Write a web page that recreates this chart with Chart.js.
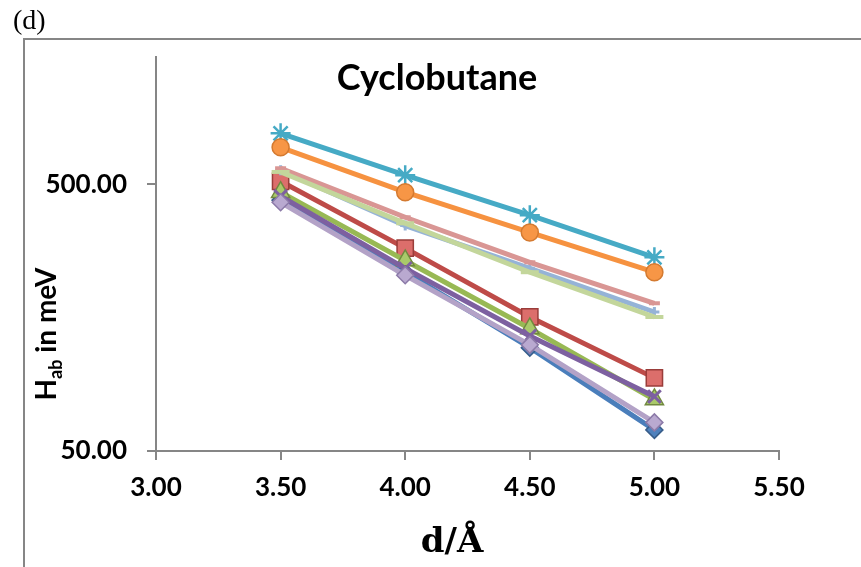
<!DOCTYPE html>
<html>
<head>
<meta charset="utf-8">
<script src="https://cdn.jsdelivr.net/npm/chart.js@4.4.1/dist/chart.umd.min.js"></script>
<style>
  html, body { margin: 0; padding: 0; background: #fff; }
  #wrap { width: 861px; height: 567px; }
</style>
</head>
<body>
<div id="wrap"><canvas id="chart" width="861" height="567"></canvas></div>
<script>
// distances d in Angstrom
const distances = [3.5, 4.0, 4.5, 5.0];

// H_ab values in meV, one array per series
const series1 = [436, 234, 122, 60];
const series2 = [513, 288, 159, 94];
const series3 = [467, 259, 144, 78];
const series4 = [451, 242, 135, 80];
const series5 = [776, 541, 383, 266];
const series6 = [688, 467, 330, 234];
const series7 = [564, 350, 242, 166];
const series8 = [574, 376, 255, 179];
const series9 = [556, 357, 234, 159];
const series10 = [428, 228, 125, 64];

const yTicks = [50, 500];
const xMin = 3.0, xMax = 5.5, xStep = 0.5;
const yMin = 50, yMax = 1500;

const axisGrey = '#868686';
const tickFont = { family: 'Lato', weight: 'bold', size: 26 };

function pts(vals) {
    return vals.map((v, i) => ({ x: distances[i], y: v }));
}

function ds(vals, line, fill, border, style, radius, bw, order) {
    return {
        data: pts(vals),
        borderColor: line,
        borderWidth: 5,
        pointBackgroundColor: fill,
        pointBorderColor: border,
        pointBorderWidth: bw,
        pointStyle: style,
        pointRadius: radius,
        tension: 0,
        order: order
    };
}

const datasets = [
    ds(series1, '#4A7EBB', '#4F81BD', '#385D8A', 'rectRot', 8.5, 1.5, 10),
    ds(series2, '#BE4B48', '#DC6E6B', '#9A3D3A', 'rect', 11.5, 1.5, 9),
    ds(series3, '#98B954', '#A9C96A', '#71893F', 'triangle', 10.5, 1.5, 8),
    ds(series4, '#7D60A0', '#7D60A0', '#7D60A0', 'crossRot', 9, 3, 7),
    ds(series5, '#46AAC5', '#46AAC5', '#46AAC5', 'star', 10, 2.5, 6),
    ds(series6, '#F69240', '#F79646', '#D47A30', 'circle', 8.5, 1.5, 5),
    ds(series7, '#95B3D7', '#95B3D7', '#95B3D7', 'cross', 5, 3, 4),
    ds(series8, '#D99694', '#D99694', '#D99694', 'line', 5.5, 4, 3),
    ds(series9, '#C3D69B', '#C3D69B', '#C3D69B', 'line', 9, 4, 2),
    ds(series10, '#B3A2C7', '#B9A9D0', '#8C7AA8', 'rectRot', 8.5, 1.5, 1)
];

const decorations = {
    id: 'decorations',
    beforeDraw(chart) {
        const ctx = chart.ctx;
        ctx.save();
        // outer frame of the chart box
        ctx.strokeStyle = axisGrey;
        ctx.lineWidth = 2;
        ctx.beginPath();
        ctx.moveTo(24, 567);
        ctx.lineTo(24, 39);
        ctx.lineTo(861, 39);
        ctx.stroke();
        ctx.restore();
    },
    afterDraw(chart) {
        const ctx = chart.ctx;
        ctx.save();
        ctx.fillStyle = '#000';

        // panel label
        ctx.font = '28px "Liberation Serif"';
        ctx.textAlign = 'left';
        ctx.textBaseline = 'alphabetic';
        ctx.fillText('(d)', 13, 29);

        // title
        ctx.font = 'bold 36px Lato';
        ctx.textAlign = 'center';
        ctx.fillText('Cyclobutane', 437, 90);

        // x axis title
        ctx.font = 'bold 34px "DejaVu Serif"';
        ctx.fillText('d/Å', 452, 552);

        // y axis title with subscript
        ctx.translate(56, 334);
        ctx.rotate(-Math.PI / 2);
        const big = 'bold 28px Lato', small = 'bold 18px Lato';
        ctx.font = big;
        const wH = ctx.measureText('H').width;
        const wRest = ctx.measureText(' in meV').width;
        ctx.font = small;
        const wSub = ctx.measureText('ab').width;
        let x = -(wH + wSub + wRest) / 2;
        ctx.textAlign = 'left';
        ctx.font = big;
        ctx.fillText('H', x, 0);
        x += wH;
        ctx.font = small;
        ctx.fillText('ab', x, 6);
        x += wSub;
        ctx.font = big;
        ctx.fillText(' in meV', x, 0);
        ctx.restore();
    }
};

new Chart(document.getElementById('chart').getContext('2d'), {
    type: 'line',
    data: { datasets: datasets },
    options: {
        responsive: false,
        animation: false,
        layout: { padding: { left: 0, right: 82, top: 57, bottom: 0 } },
        plugins: {
            legend: { display: false },
            tooltip: { enabled: false }
        },
        scales: {
            x: {
                type: 'linear',
                min: xMin,
                max: xMax,
                border: { color: axisGrey, width: 2 },
                grid: { drawOnChartArea: false, drawTicks: true, tickLength: 9, color: axisGrey, lineWidth: 2 },
                ticks: {
                    stepSize: xStep,
                    color: '#000',
                    font: tickFont,
                    padding: 12,
                    maxRotation: 0,
                    callback: v => v.toFixed(2)
                },
                afterFit(scale) { scale.height = 567 - 451; }
            },
            y: {
                type: 'logarithmic',
                min: yMin,
                max: yMax,
                border: { color: axisGrey, width: 2 },
                grid: { drawOnChartArea: false, drawTicks: true, tickLength: 9, color: axisGrey, lineWidth: 2 },
                afterBuildTicks(scale) {
                    scale.ticks = yTicks.map(v => ({ value: v }));
                },
                ticks: {
                    color: '#000',
                    font: tickFont,
                    padding: 20,
                    callback: v => Number(v).toFixed(2)
                },
                afterFit(scale) { scale.width = 156; }
            }
        }
    },
    plugins: [decorations]
});
</script>
</body>
</html>
